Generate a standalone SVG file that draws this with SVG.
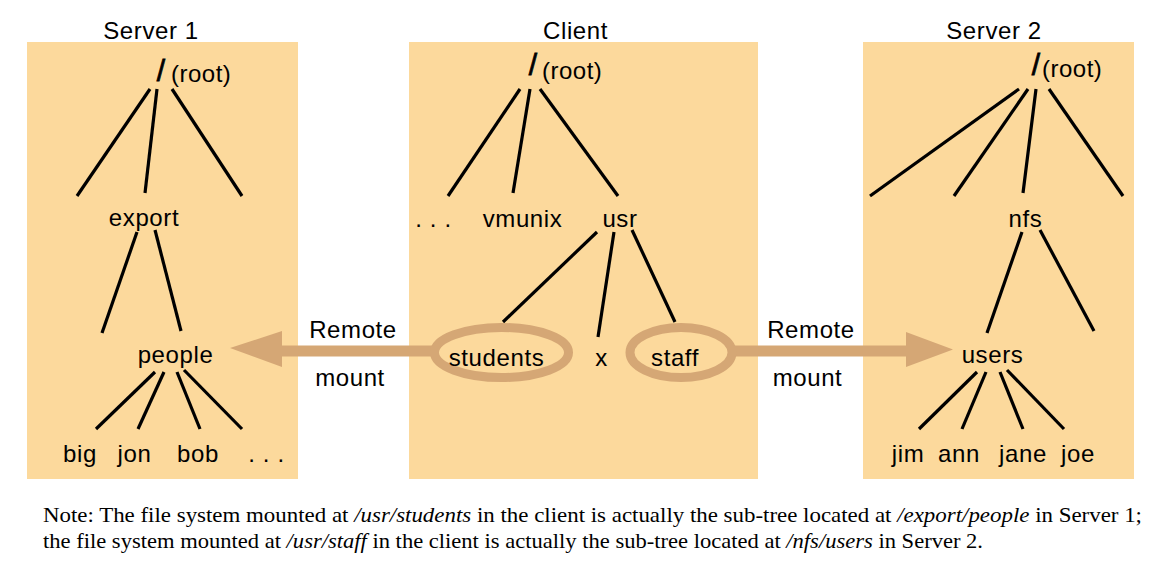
<svg xmlns="http://www.w3.org/2000/svg" width="1164" height="574" viewBox="0 0 1164 574">
<style>
.panel{fill:#FCD99C;stroke:none}
.lbl{font-family:"Liberation Sans",Arial,sans-serif;font-size:24px;fill:#000;text-anchor:middle;letter-spacing:0.6px}
.root{font-family:"Liberation Sans",Arial,sans-serif;font-size:24px;fill:#000;letter-spacing:0.5px}
.slash{font-family:"Liberation Sans",Arial,sans-serif;font-size:30px;fill:#000;stroke:#000;stroke-width:0.8;text-anchor:middle}
.edge{stroke:#000;stroke-width:3.2;fill:none}
.mnt{fill:#D5A775}
.shaft{stroke:#D5A775;stroke-width:11;fill:none}
.ring{stroke:#D5A775;stroke-width:9;fill:none}
.note{font-family:"Liberation Serif","Times New Roman",serif;font-size:22px;fill:#000}
</style>
<rect width="1164" height="574" fill="#fff"/>

<g id="server1">
<rect class="panel" x="27" y="42" width="271" height="437"/>
<text class="lbl" x="151" y="39">Server 1</text>
<text class="slash" x="161" y="81">/</text>
<text class="root" x="171" y="82">(root)</text>
<text class="lbl" x="144" y="226">export</text>
<text class="lbl" x="175.5" y="363">people</text>
<text class="lbl" x="80" y="462">big</text>
<text class="lbl" x="134.5" y="462">jon</text>
<text class="lbl" x="198" y="462">bob</text>
<text class="lbl" x="266.5" y="462">. . .</text>
</g>

<g id="client">
<rect class="panel" x="409" y="42" width="349" height="437"/>
<text class="lbl" x="575.5" y="39">Client</text>
<text class="slash" x="533" y="75">/</text>
<text class="root" x="542" y="79">(root)</text>
<text class="lbl" x="433.5" y="226.5">. . .</text>
<text class="lbl" x="522.5" y="226.5">vmunix</text>
<text class="lbl" x="620" y="226.5">usr</text>
<text class="lbl" x="601.5" y="366">x</text>
</g>

<g id="server2">
<rect class="panel" x="863" y="42" width="271" height="437"/>
<text class="lbl" x="994" y="39">Server 2</text>
<text class="slash" x="1036" y="75">/</text>
<text class="root" x="1042" y="77">(root)</text>
<text class="lbl" x="1025.5" y="226.5">nfs</text>
<text class="lbl" x="992.5" y="363">users</text>
<text class="lbl" x="908" y="462">jim</text>
<text class="lbl" x="959" y="462">ann</text>
<text class="lbl" x="1023" y="462">jane</text>
<text class="lbl" x="1078" y="462">joe</text>
</g>

<g id="connectors">
<line class="edge" x1="150" y1="89" x2="77" y2="196"/>
<line class="edge" x1="157" y1="89" x2="145" y2="193"/>
<line class="edge" x1="172" y1="89" x2="242" y2="196"/>
<line class="edge" x1="137" y1="232" x2="102" y2="333"/>
<line class="edge" x1="155" y1="230" x2="181" y2="331"/>
<line class="edge" x1="155" y1="372" x2="96" y2="429"/>
<line class="edge" x1="164" y1="372" x2="138" y2="429"/>
<line class="edge" x1="177" y1="372" x2="200" y2="429"/>
<line class="edge" x1="184" y1="370" x2="242" y2="429"/>

<line class="edge" x1="520" y1="89" x2="448" y2="196"/>
<line class="edge" x1="530" y1="89" x2="513" y2="193"/>
<line class="edge" x1="540" y1="89" x2="618" y2="196"/>
<line class="edge" x1="597" y1="232" x2="503" y2="322"/>
<line class="edge" x1="614" y1="232" x2="598" y2="337"/>
<line class="edge" x1="632" y1="230" x2="675" y2="322"/>

<line class="edge" x1="1019" y1="89" x2="870" y2="196"/>
<line class="edge" x1="1028" y1="89" x2="954" y2="196"/>
<line class="edge" x1="1036" y1="89" x2="1023" y2="193"/>
<line class="edge" x1="1049" y1="89" x2="1123" y2="196"/>
<line class="edge" x1="1022" y1="232" x2="987" y2="333"/>
<line class="edge" x1="1040" y1="230" x2="1094" y2="331"/>
<line class="edge" x1="977" y1="372" x2="919" y2="429"/>
<line class="edge" x1="986" y1="372" x2="962" y2="429"/>
<line class="edge" x1="1000" y1="372" x2="1023" y2="429"/>
<line class="edge" x1="1007" y1="370" x2="1064" y2="429"/>

<line class="shaft" x1="278" y1="351" x2="436" y2="351"/>
<polygon class="mnt" points="230,348 282,331 282,367"/>
<line class="shaft" x1="732" y1="351" x2="910" y2="351"/>
<polygon class="mnt" points="953,349.5 906,332 906,367"/>
<ellipse class="ring" cx="501.5" cy="352.5" rx="67" ry="25"/>
<ellipse class="ring" cx="681" cy="352.5" rx="51" ry="25"/>
</g>

<g id="mount-labels">
<text class="lbl" x="353" y="338">Remote</text>
<text class="lbl" x="350" y="386">mount</text>
<text class="lbl" x="811" y="338">Remote</text>
<text class="lbl" x="807.5" y="386">mount</text>
<text class="lbl" x="496.5" y="366">students</text>
<text class="lbl" x="675" y="366">staff</text>
</g>

<g id="note">
<text class="note" x="43" y="522" textLength="1099" lengthAdjust="spacingAndGlyphs">Note: The file system mounted at <tspan font-style="italic">/usr/students</tspan> in the client is actually the sub-tree located at <tspan font-style="italic">/export/people</tspan> in Server 1;</text>
<text class="note" x="43" y="548" textLength="940" lengthAdjust="spacingAndGlyphs">the file system mounted at <tspan font-style="italic">/usr/staff</tspan> in the client is actually the sub-tree located at <tspan font-style="italic">/nfs/users</tspan> in Server 2.</text>
</g>
</svg>
